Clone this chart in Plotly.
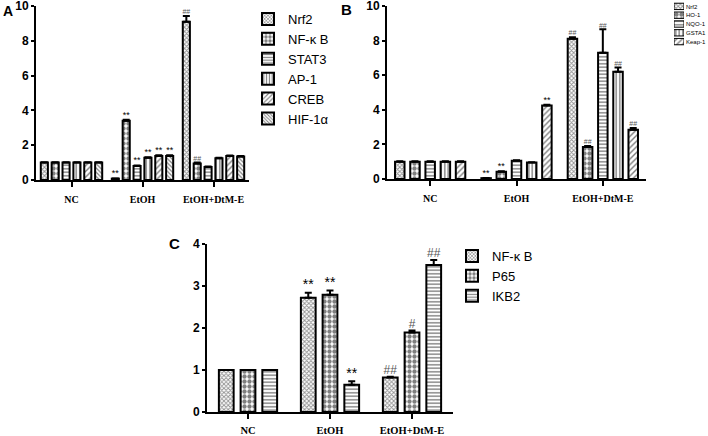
import plotly.graph_objects as go

W, H = 708, 436
groups = ["NC", "EtOH", "EtOH+DtM-E"]
group_pos = [0, 1, 2]

# ---------------- Panel A ----------------
a_names = ["Nrf2", "NF-κ B", "STAT3", "AP-1", "CREB", "HIF-1α"]
a_nrf2 = [1.00, 0.08, 9.10]
a_nfkb = [1.00, 3.40, 0.95]
a_stat3 = [1.00, 0.80, 0.75]
a_ap1 = [1.00, 1.28, 1.25]
a_creb = [1.00, 1.38, 1.38]
a_hif = [1.00, 1.38, 1.35]
a_nrf2_err = [0.02, 0.01, 0.32]
a_nfkb_err = [0.02, 0.06, 0.05]
a_stat3_err = [0.02, 0.04, 0.03]
a_ap1_err = [0.02, 0.03, 0.03]
a_creb_err = [0.02, 0.04, 0.03]
a_hif_err = [0.02, 0.04, 0.03]
a_nrf2_sig = ["", "**", "##"]
a_nfkb_sig = ["", "**", "##"]
a_stat3_sig = ["", "**", ""]
a_ap1_sig = ["", "**", ""]
a_creb_sig = ["", "**", ""]
a_hif_sig = ["", "**", ""]

# ---------------- Panel B ----------------
b_names = ["Nrf2", "HO-1", "NQO-1", "GSTA1", "Keap-1"]
b_nrf2 = [1.00, 0.05, 8.10]
b_ho1 = [1.00, 0.42, 1.85]
b_nqo1 = [1.00, 1.05, 7.30]
b_gsta1 = [1.00, 0.95, 6.20]
b_keap1 = [1.00, 4.25, 2.85]
b_nrf2_err = [0.02, 0.01, 0.10]
b_ho1_err = [0.02, 0.03, 0.06]
b_nqo1_err = [0.02, 0.03, 1.35]
b_gsta1_err = [0.02, 0.02, 0.25]
b_keap1_err = [0.02, 0.04, 0.10]
b_nrf2_sig = ["", "**", "##"]
b_ho1_sig = ["", "**", "##"]
b_nqo1_sig = ["", "", "##"]
b_gsta1_sig = ["", "", "##"]
b_keap1_sig = ["", "**", "##"]

# ---------------- Panel C ----------------
c_names = ["NF-κ B", "P65", "IKB2"]
c_nfkb = [1.00, 2.72, 0.82]
c_p65 = [1.00, 2.79, 1.89]
c_ikb2 = [1.00, 0.65, 3.50]
c_nfkb_err = [0.00, 0.12, 0.02]
c_p65_err = [0.00, 0.10, 0.05]
c_ikb2_err = [0.00, 0.08, 0.12]
c_nfkb_sig = ["", "**", "##"]
c_p65_sig = ["", "**", "#"]
c_ikb2_sig = ["", "**", "##"]

a_ticks = [0, 2, 4, 6, 8, 10]
c_ticks = [0, 1, 2, 3, 4]

# ---------------- styles ----------------
P_FINE = dict(shape="x", size=3, solidity=0.5, fgcolor="#222", bgcolor="white")
P_CHECK = dict(shape=".", size=5, solidity=0.6, fgcolor="black", bgcolor="white")
P_HLINE = dict(shape="-", size=3.5, solidity=0.4, fgcolor="black", bgcolor="white")
P_VLINE = dict(shape="|", size=3.5, solidity=0.4, fgcolor="black", bgcolor="white")
P_DIAG = dict(shape="/", size=4, solidity=0.35, fgcolor="black", bgcolor="white")
P_BACK = dict(shape="\\", size=3, solidity=0.4, fgcolor="black", bgcolor="white")

fig = go.Figure()


def add_panel(series, names, errs, sigs, patterns, xa, ya, step, width, sigsize, legend, showlegend):
    n = len(series)
    for i, (vals, name, err, sig, pat) in enumerate(zip(series, names, errs, sigs, patterns)):
        off = (i - (n - 1) / 2) * step
        xs = [g + off for g in group_pos]
        fig.add_trace(go.Bar(
            x=xs, y=vals, width=width, name=name,
            marker=dict(color="white", pattern=pat, line=dict(color="black", width=2)),
            error_y=dict(type="data", array=err, arrayminus=[0] * len(err), symmetric=False,
                         color="black", thickness=2, width=3.5),
            xaxis=xa, yaxis=ya, showlegend=showlegend, legend=legend,
        ))
        fig.add_trace(go.Scatter(
            x=xs, y=[v + e for v, e in zip(vals, err)], mode="text", text=sig,
            textposition="top center",
            textfont=dict(family="Liberation Sans",
                          size=[sigsize - 2 if s.startswith("#") else sigsize for s in sig],
                          color=["#555" if s.startswith("#") else "black" for s in sig]),
            xaxis=xa, yaxis=ya, showlegend=False, hoverinfo="skip",
        ))


add_panel([a_nrf2, a_nfkb, a_stat3, a_ap1, a_creb, a_hif], a_names,
          [a_nrf2_err, a_nfkb_err, a_stat3_err, a_ap1_err, a_creb_err, a_hif_err],
          [a_nrf2_sig, a_nfkb_sig, a_stat3_sig, a_ap1_sig, a_creb_sig, a_hif_sig],
          [P_FINE, P_CHECK, P_HLINE, P_VLINE, P_DIAG, P_BACK],
          "x", "y", 0.153, 0.10, 9, "legend", True)

add_panel([b_nrf2, b_ho1, b_nqo1, b_gsta1, b_keap1], b_names,
          [b_nrf2_err, b_ho1_err, b_nqo1_err, b_gsta1_err, b_keap1_err],
          [b_nrf2_sig, b_ho1_sig, b_nqo1_sig, b_gsta1_sig, b_keap1_sig],
          [P_FINE, P_CHECK, P_HLINE, P_VLINE, P_DIAG],
          "x2", "y2", 0.176, 0.11, 9, "legend", False)

add_panel([c_nfkb, c_p65, c_ikb2], c_names,
          [c_nfkb_err, c_p65_err, c_ikb2_err],
          [c_nfkb_sig, c_p65_sig, c_ikb2_sig],
          [P_FINE, P_CHECK, P_HLINE],
          "x3", "y3", 0.265, 0.18, 14, "legend2", True)

# Panel B legend drawn as small swatch bars on a helper axis
b_pats = [P_FINE, P_CHECK, P_HLINE, P_VLINE, P_DIAG]
fig.add_trace(go.Bar(
    x=[1] * len(b_names), y=list(range(len(b_names))), orientation="h", width=0.72,
    marker=dict(color="white", line=dict(color="black", width=1),
                pattern=dict(shape=[p["shape"] for p in b_pats],
                             size=[p["size"] for p in b_pats],
                             solidity=[p["solidity"] for p in b_pats],
                             fgcolor=[p["fgcolor"] for p in b_pats],
                             bgcolor="white")),
    xaxis="x4", yaxis="y4", showlegend=False, hoverinfo="skip",
))

tickfont_y = dict(family="Liberation Sans", size=12, color="black")


def yax(domain, rng, ticks, anchor):
    return dict(domain=domain, range=rng, tickvals=ticks, ticktext=[f"<b>{t}</b>" for t in ticks],
                showline=True, linewidth=2, linecolor="black", ticks="outside", ticklen=3,
                tickwidth=2, tickcolor="black", showgrid=False, zeroline=False,
                tickfont=tickfont_y, anchor=anchor, fixedrange=True, automargin=False,
                ticklabeloverflow="allow")


def xax(domain, anchor, fsize, standoff):
    return dict(domain=domain, range=[-0.5, 2.5], tickvals=group_pos,
                ticktext=[f"<b>{g}</b>" for g in groups],
                showline=True, linewidth=2, linecolor="black", ticks="outside", ticklen=5,
                tickwidth=1.5, tickcolor="black", showgrid=False, zeroline=False,
                tickfont=dict(family="Liberation Serif", size=fsize, color="black"),
                ticklabelstandoff=standoff, anchor=anchor, fixedrange=True, automargin=False,
                ticklabeloverflow="allow")


fig.update_layout(
    width=W, height=H, margin=dict(l=0, r=0, t=0, b=0, autoexpand=False),
    paper_bgcolor="white", plot_bgcolor="white", barmode="overlay",
    xaxis=xax([36 / W, 249 / W], "y", 10, 4),
    yaxis=yax([1 - 180 / H, 1 - 6 / H], [0, 10], a_ticks, "x"),
    xaxis2=xax([387 / W, 646 / W], "y2", 10, 4),
    yaxis2=yax([1 - 179 / H, 1 - 6 / H], [0, 10], a_ticks, "x2"),
    xaxis3=xax([207 / W, 453 / W], "y3", 10.5, 2),
    yaxis3=yax([1 - 412 / H, 1 - 244 / H], [0, 4], c_ticks, "x3"),
    xaxis4=dict(domain=[674 / W, 684 / W], range=[0, 1], visible=False, anchor="y4",
                fixedrange=True, automargin=False),
    yaxis4=dict(domain=[1 - 46 / H, 1 - 2 / H], range=[4.5, -0.5], anchor="x4", side="right",
                tickvals=list(range(len(b_names))), ticktext=b_names, showline=False,
                showgrid=False, zeroline=False, ticks="", ticklabelstandoff=1, automargin=False,
                ticklabeloverflow="allow",
                tickfont=dict(family="Liberation Sans", size=6, color="black"), fixedrange=True),
    legend=dict(x=248 / W, y=1 - 4 / H, xanchor="left", yanchor="top",
                font=dict(family="Liberation Sans", size=13, color="black"),
                bgcolor="rgba(0,0,0,0)", tracegroupgap=0),
    legend2=dict(x=452 / W, y=1 - 241 / H, xanchor="left", yanchor="top",
                 font=dict(family="Liberation Sans", size=13, color="black"),
                 bgcolor="rgba(0,0,0,0)", tracegroupgap=0),
    annotations=[
        dict(text="<b>A</b>", x=1 / W, y=1 - 11 / H, xref="paper", yref="paper",
             showarrow=False, xanchor="left", yanchor="middle",
             font=dict(family="Liberation Sans", size=14, color="black")),
        dict(text="<b>B</b>", x=339 / W, y=1 - 9 / H, xref="paper", yref="paper",
             showarrow=False, xanchor="left", yanchor="middle",
             font=dict(family="Liberation Sans", size=15, color="black")),
        dict(text="<b>C</b>", x=167 / W, y=1 - 243 / H, xref="paper", yref="paper",
             showarrow=False, xanchor="left", yanchor="middle",
             font=dict(family="Liberation Sans", size=15, color="black")),
    ],
)

fig.write_html("out.html", config={"displayModeBar": False},
               post_script="document.body.style.margin='0px';document.body.style.overflow='hidden';")
